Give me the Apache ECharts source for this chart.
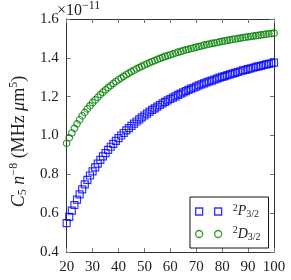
<!DOCTYPE html>
<html><head><meta charset="utf-8">
<script src="https://cdn.jsdelivr.net/npm/echarts@6/dist/echarts.min.js"></script>
<style>html,body{margin:0;padding:0;background:#fff}#c{width:291px;height:280px}</style>
</head><body><div id="c"></div>
<script>
// principal quantum number n
const nValues = [20,21,22,23,24,25,26,27,28,29,30,31,32,33,34,35,36,37,38,39,40,41,42,43,44,45,46,47,48,49,50,51,52,53,54,55,56,57,58,59,60,61,62,63,64,65,66,67,68,69,70,71,72,73,74,75,76,77,78,79,80,81,82,83,84,85,86,87,88,89,90,91,92,93,94,95,96,97,98,99,100];
// C5 n^-8 in units of 1e-11 MHz um^5
const p32Values = [0.549,0.581,0.613,0.642,0.670,0.697,0.723,0.748,0.771,0.794,0.815,0.836,0.855,0.874,0.892,0.909,0.926,0.942,0.957,0.972,0.986,1.000,1.013,1.026,1.038,1.050,1.061,1.072,1.083,1.093,1.103,1.113,1.123,1.132,1.140,1.149,1.157,1.165,1.173,1.181,1.188,1.195,1.202,1.209,1.216,1.222,1.229,1.235,1.241,1.246,1.252,1.258,1.263,1.268,1.274,1.279,1.283,1.288,1.293,1.298,1.302,1.306,1.311,1.315,1.319,1.323,1.327,1.331,1.335,1.338,1.342,1.346,1.349,1.353,1.356,1.359,1.363,1.366,1.369,1.372,1.375];
const d32Values = [0.960,0.988,1.013,1.037,1.060,1.081,1.101,1.119,1.137,1.153,1.169,1.183,1.197,1.211,1.223,1.235,1.247,1.257,1.268,1.278,1.287,1.296,1.305,1.313,1.321,1.329,1.336,1.343,1.350,1.357,1.363,1.369,1.375,1.381,1.386,1.392,1.397,1.402,1.407,1.411,1.416,1.420,1.425,1.429,1.433,1.437,1.441,1.444,1.448,1.451,1.455,1.458,1.461,1.465,1.468,1.471,1.474,1.476,1.479,1.482,1.485,1.487,1.490,1.492,1.495,1.497,1.499,1.502,1.504,1.506,1.508,1.510,1.512,1.514,1.516,1.518,1.520,1.522,1.524,1.525,1.527];
const seriesNames = ['²P₃/₂', '²D₃/₂'];
const xTicks = {min: 20, max: 100, interval: 10};
const yTicks = {min: 0.4, max: 1.6, interval: 0.2};

const FONT = 'Liberation Serif';
const BLUE = '#0000ff', GREEN = '#008000';
const frame = '#333';
const tickCol = '#777';

const chart = echarts.init(document.getElementById('c'), null, {renderer: 'canvas'});

function zip(xs, ys) { return xs.map((x, i) => [x, ys[i]]); }

const baseX = {
  type: 'value', min: xTicks.min, max: xTicks.max, interval: xTicks.interval,
  axisLine: {show: true, onZero: false, lineStyle: {color: frame, width: 1}},
  axisTick: {show: true, inside: true, length: 4, lineStyle: {color: tickCol}},
  splitLine: {show: false}
};
const baseY = {
  type: 'value', min: yTicks.min, max: yTicks.max, interval: yTicks.interval,
  axisLine: {show: true, onZero: false, lineStyle: {color: frame, width: 1}},
  axisTick: {show: true, inside: true, length: 4, lineStyle: {color: tickCol}},
  splitLine: {show: false}
};

const rich = {
  r: {fontFamily: FONT, fontSize: 18, color: '#222'},
  i: {fontFamily: FONT, fontSize: 18, fontStyle: 'italic', color: '#222'},
  sub: {fontFamily: FONT, fontSize: 12, color: '#222', padding: [8, 0, 0, 0]},
  sup: {fontFamily: FONT, fontSize: 12, color: '#222', padding: [0, 0, 10, 0]}
};

const legendRich = {
  sp: {fontFamily: FONT, fontSize: 10, color: '#222', padding: [0, 0, 7, 6]},
  i: {fontFamily: FONT, fontSize: 14, fontStyle: 'italic', color: '#222'},
  sub: {fontFamily: FONT, fontSize: 10, color: '#222', padding: [6, 0, 0, 0]}
};

chart.setOption({
  animation: false,
  backgroundColor: '#fff',
  textStyle: {fontFamily: FONT},
  grid: {left: 57, right: 17, top: 19, bottom: 28, containLabel: false},
  xAxis: [
    Object.assign({}, baseX, {
      position: 'bottom',
      axisLabel: {show: true, margin: 8, fontFamily: FONT, fontSize: 15, color: '#222'}
    }),
    Object.assign({}, baseX, {position: 'top', axisLabel: {show: false}})
  ],
  yAxis: [
    Object.assign({}, baseY, {
      position: 'left',
      axisLabel: {show: true, margin: 8, fontFamily: FONT, fontSize: 15, color: '#222',
        formatter: v => v.toFixed(1)},
      name: '{i|C}{sub|5}{i| n}{sup|−8}{r| (MHz }{i|μ}{r|m}{sup|5}{r|)}',
      nameLocation: 'middle',
      nameGap: 36,
      nameRotate: 90,
      nameTextStyle: {rich: rich, padding: [0, 12, 0, 0]}
    }),
    Object.assign({}, baseY, {position: 'right', axisLabel: {show: false}})
  ],
  legend: {
    show: true,
    orient: 'vertical',
    left: 190, top: 197,
    width: 77,
    padding: [6, 8, 6, 5],
    itemGap: 6,
    itemWidth: 26, itemHeight: 7,
    backgroundColor: '#fff',
    borderColor: '#111', borderWidth: 1, borderRadius: 0,
    data: [
      {name: seriesNames[0], icon: 'path://M0,0H7V7H0Z M19,0H26V7H19Z',
       itemStyle: {color: 'rgba(0,0,0,0)', borderColor: BLUE, borderWidth: 1.3}},
      {name: seriesNames[1], icon: 'path://M0,3.5a3.5,3.5 0 1,0 7,0a3.5,3.5 0 1,0 -7,0Z M19,3.5a3.5,3.5 0 1,0 7,0a3.5,3.5 0 1,0 -7,0Z',
       itemStyle: {color: 'rgba(0,0,0,0)', borderColor: GREEN, borderWidth: 1.3}}
    ],
    formatter: function (name) {
      if (name === seriesNames[0]) return '{sp|2}{i|P}{sub|3/2}';
      return '{sp|2}{i|D}{sub|3/2}';
    },
    textStyle: {rich: legendRich}
  },
  graphic: [{
    type: 'text', left: 57, top: 0,
    style: {
      text: '×10{s|−11}',
      font: '16px ' + FONT,
      fill: '#222',
      rich: {s: {fontFamily: FONT, fontSize: 12, fill: '#222', padding: [0, 0, 9, 0]}}
    }
  }],
  series: [
    {
      name: seriesNames[0], type: 'scatter', xAxisIndex: 0, yAxisIndex: 0,
      symbol: 'rect', symbolSize: 7,
      itemStyle: {color: 'rgba(0,0,0,0)', borderColor: BLUE, borderWidth: 1.2},
      data: zip(nValues, p32Values), z: 2
    },
    {
      name: seriesNames[1], type: 'scatter', xAxisIndex: 0, yAxisIndex: 0,
      symbol: 'circle', symbolSize: 6.5,
      itemStyle: {color: 'rgba(0,0,0,0)', borderColor: GREEN, borderWidth: 1.2},
      data: zip(nValues, d32Values), z: 2
    }
  ]
});
</script>
</body></html>
